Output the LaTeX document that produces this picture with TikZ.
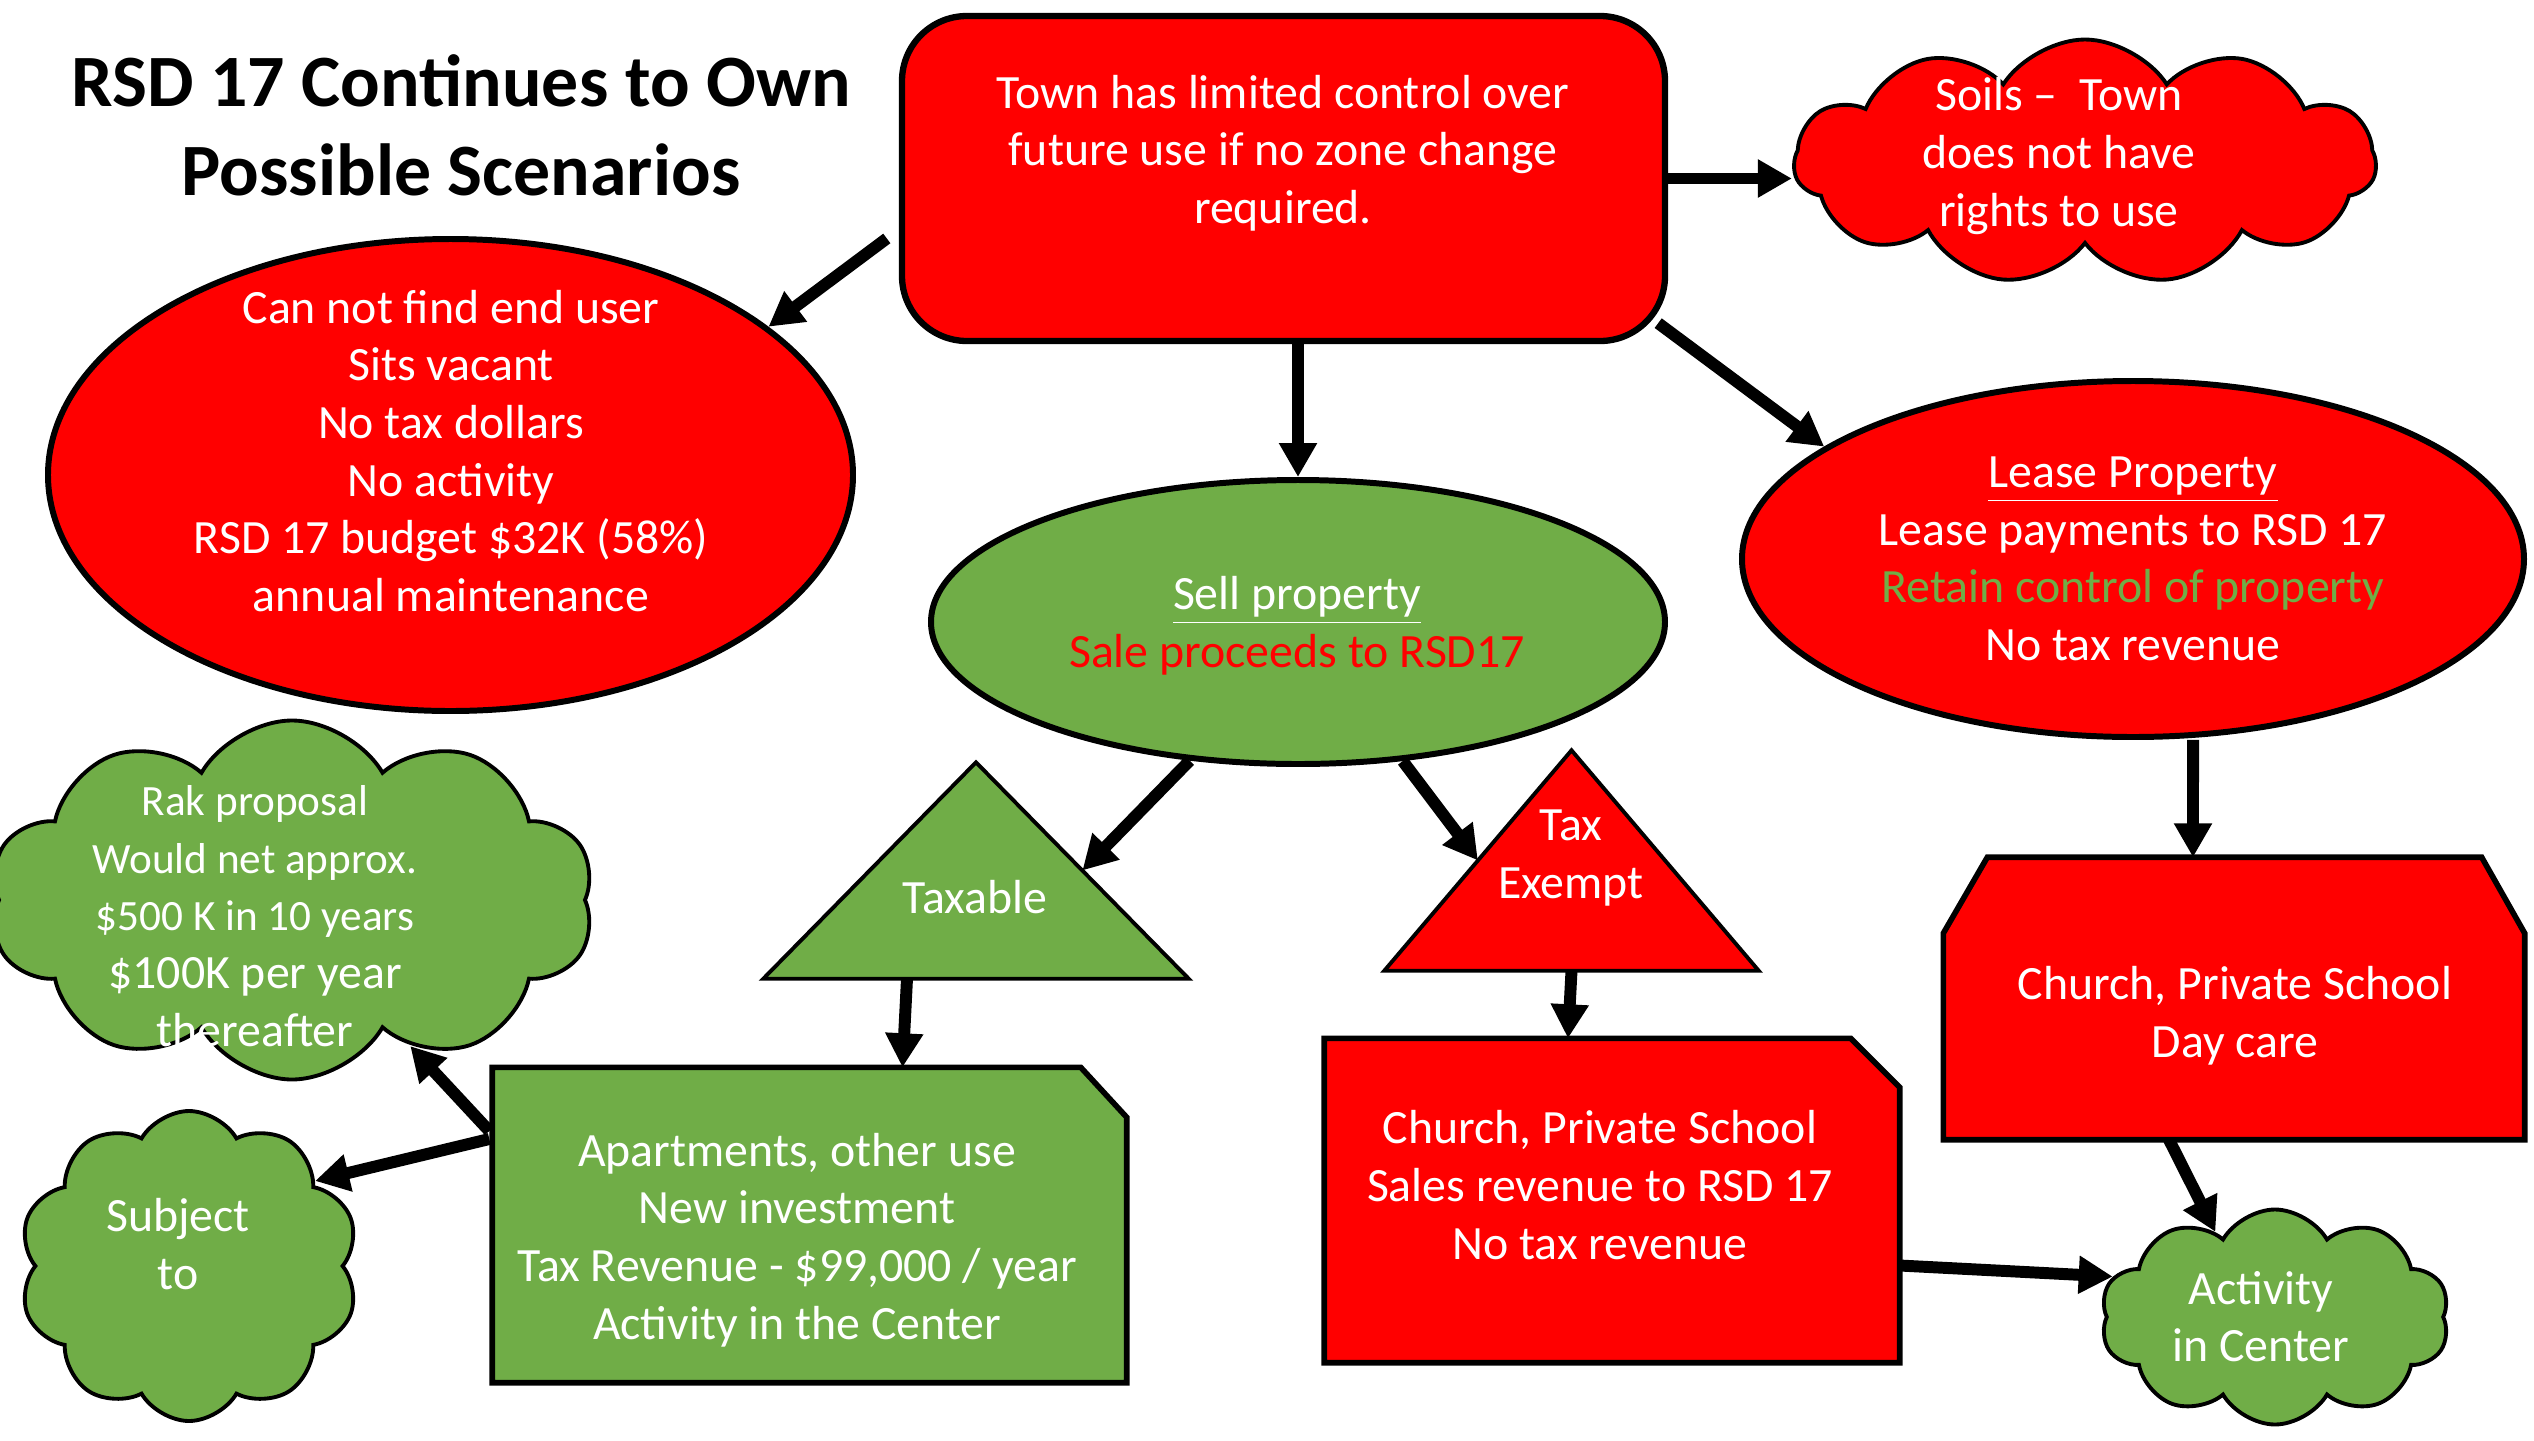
\documentclass[tikz,border=0pt]{standalone}
\usepackage{fontspec}
\setmainfont{Carlito}
\usetikzlibrary{shapes.geometric, shapes.symbols, arrows.meta, backgrounds, calc}
\definecolor{ppred}{HTML}{FF0000}
\definecolor{ppgreen}{HTML}{70AD47}
\newcommand{\smallline}[1]{{\fontsize{12.3pt}{16pt}\selectfont #1}}
\tikzstyle{block} = [rectangle, draw, fill=ppred, rounded corners=0.65cm, line width=1.8pt, inner sep=0pt]
\tikzstyle{oval} = [ellipse, draw, text=white, align=center, line width=1.7pt, inner sep=0pt]
\tikzstyle{puff} = [cloud, draw, cloud puffs=10, cloud puff arc=120, cloud ignores aspect, inner sep=0pt, line width=1.1pt]
\tikzstyle{spot} = [rectangle, inner sep=0pt]
\tikzstyle{words} = [text=white, align=center, inner sep=0pt]
\tikzstyle{outline} = [draw, line join=miter]
\tikzstyle{line} = [draw, line width=3.4pt, -{Triangle[length=0.34cm,width=0.36cm]}]

\begin{document}
\begin{tikzpicture}[every node/.style={font=\fontsize{13.6pt}{16.4pt}\selectfont}]
    \useasboundingbox (0,0) rectangle (25.34,-14.40);
    % Place nodes
    \node[align=center, font=\fontsize{21pt}{25.3pt}\selectfont\bfseries] (title) at (4.61,-1.255) {RSD 17 Continues to Own\\Possible Scenarios};
    \node[block, minimum width=7.63cm, minimum height=3.25cm] (town) at (12.835,-1.785) {};
    \node[words] (towntext) at (12.83,-1.53) {Town has limited control over\\future use if no zone change\\required.};
    \node[puff, fill=ppred, cloud puffs=11, cloud puff arc=115, minimum width=5.82cm, minimum height=2.45cm] (soils) at (20.85,-1.62) {};
    \node[words] (soilstext) at (20.59,-1.56) {Soils –\ \ Town\\does not have\\rights to use};
    \node[oval, fill=ppred, minimum width=8.05cm, minimum height=4.72cm] (vacant) at (4.505,-4.75) {};
    \node[words] (vacanttext) at (4.51,-4.51) {Can not find end user\\Sits vacant\\No tax dollars\\No activity\\RSD 17 budget \$32K (58\%)\\annual maintenance};
    \node[oval, fill=ppgreen, minimum width=7.34cm, minimum height=2.84cm] (sell) at (12.98,-6.22) {};
    \node[words] (selltext) at (12.97,-6.26) {\underline{Sell property}\\\textcolor{ppred}{Sale proceeds to RSD17}};
    \node[oval, fill=ppred, minimum width=7.82cm, minimum height=3.56cm] (lease) at (21.33,-5.59) {\underline{Lease Property}\\Lease payments to RSD 17\\\textcolor{ppgreen}{Retain control of property}\\No tax revenue};
    \node[puff, fill=ppgreen, minimum width=6.05cm, minimum height=3.59cm] (rak) at (2.92,-9.00) {};
    \node[words] (raktext) at (2.55,-9.16) {\smallline{Rak proposal}\\\smallline{Would net approx.}\\\smallline{\$500 K in 10 years}\\\$100K per year\\thereafter};
    \node[spot, minimum width=4.24cm, minimum height=2.15cm] (taxable) at (9.76,-8.705) {};
    \node[words] (taxabletext) at (9.75,-8.97) {Taxable};
    \node[spot, minimum width=3.73cm, minimum height=2.19cm] (exempt) at (15.715,-8.605) {};
    \node[words] (exempttext) at (15.71,-8.58) {Tax\\Exempt};
    \node[spot, minimum width=6.33cm, minimum height=3.14cm] (apt) at (8.095,-12.25) {};
    \node[words] (apttext) at (7.97,-12.40) {Apartments, other use\\New investment\\Tax Revenue - \$99,000 / year\\Activity in the Center};
    \node[spot, minimum width=5.74cm, minimum height=3.23cm] (church) at (16.12,-12.005) {};
    \node[words] (churchtext) at (16.00,-11.85) {Church, Private School\\Sales revenue to RSD 17\\No tax revenue};
    \node[spot, minimum width=5.80cm, minimum height=2.81cm] (daycare) at (22.34,-9.985) {};
    \node[words] (daycaretext) at (22.35,-10.16) {Church, Private School\\Day care};
    \node[puff, fill=ppgreen, minimum width=3.40cm, minimum height=3.10cm] (subject) at (1.89,-12.66) {};
    \node[words] (subjecttext) at (1.78,-12.44) {Subject\\to};
    \node[puff, fill=ppgreen, minimum width=3.49cm, minimum height=2.15cm] (activity) at (22.75,-13.17) {};
    \node[words] (activitytext) at (22.61,-13.165) {Activity\\in Center};
    % Shapes behind the text
    \begin{scope}[on background layer]
        \draw[outline, line width=1.1pt, fill=ppgreen] (taxable.south west) -- (taxable.north) -- (taxable.south east) -- cycle;
        \draw[outline, line width=1.1pt, fill=ppred] (exempt.south west) -- (exempt.north) -- (exempt.south east) -- cycle;
        \draw[outline, line width=1.6pt, fill=ppgreen] (apt.south west) -- (apt.north west) -- ($(apt.north east)+(-0.46,0)$) -- ($(apt.north east)+(0,-0.50)$) -- (apt.south east) -- cycle;
        \draw[outline, line width=1.6pt, fill=ppred] (church.south west) -- (church.north west) -- ($(church.north east)+(-0.49,0)$) -- ($(church.north east)+(0,-0.49)$) -- (church.south east) -- cycle;
        \draw[outline, line width=1.6pt, fill=ppred] (daycare.south west) -- ($(daycare.north west)+(0,-0.76)$) -- ($(daycare.north west)+(0.44,0)$) -- ($(daycare.north east)+(-0.43,0)$) -- ($(daycare.north east)+(0,-0.76)$) -- (daycare.south east) -- cycle;
    \end{scope}
    % Draw edges
    \path[line, shorten <=0.15cm] ($(town.west)+(0,-0.51)$) -- (vacant.25);
    \path[line] (town.east) -- (town.east -| soils.west);
    \path[line] (sell.north |- town.south) -- (sell.north);
    \path[line] ($(town.south east)+(-0.1,0.21)$) -- (lease.160);
    \path[line] (sell.232) -- ($(taxable.north)!0.5!(taxable.south east)$);
    \path[line] (sell.307) -- ($(exempt.north)!0.5!(exempt.south west)$);
    \path[line] ($(taxable.south)+(-0.69,0)$) -- ($(apt.north)+(0.93,0)$);
    \path[line] (exempt.south) -- ($(church.north)+(-0.44,0)$);
    \path[line] ($(lease.south)+(0.6,0)$) -- ($(daycare.north)+(-0.41,0)$);
    \path[line] ($(daycare.south)+(-0.65,0)$) -- (activity.125);
    \path[line] ($(church.east)+(0,-0.65)$) -- (activity.166);
    \path[line] ($(apt.west)+(-0.03,0.94)$) -- (rak.309);
    \path[line] ($(apt.west)+(-0.03,0.86)$) -- (subject.34);
\end{tikzpicture}
\end{document}
